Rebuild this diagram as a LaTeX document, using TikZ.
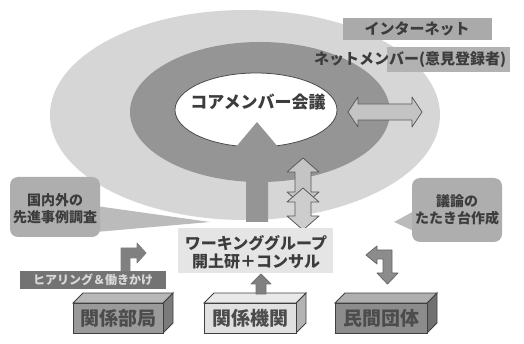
\documentclass[tikz,border=0pt]{standalone}
\usepackage{fontspec}
\setmainfont{Noto Sans CJK JP}
\usetikzlibrary{calc}
\definecolor{outerc}{HTML}{D6D6D6}
\definecolor{ringc}{HTML}{959595}
\definecolor{lblc}{HTML}{AAAAAA}
\definecolor{txtc}{HTML}{3C3C3C}
\definecolor{arrc}{HTML}{C4C4C4}
\definecolor{cubea}{HTML}{9A9A9A}
\definecolor{cubeb}{HTML}{E0E0E0}
\definecolor{cubec}{HTML}{8C8C8C}
\tikzset{
  lbl/.style={inner sep=0pt, text=txtc, font=\bfseries},
  blockarrow/.style={draw=black!65, line width=0.8pt, line join=round},
  cubefront/.style={draw=black!75, line width=0.9pt},
  cubeface/.style={draw=black!75, line width=0.9pt},
  cubetext/.style={inner sep=0pt, text=black!70, font=\bfseries\fontsize{19}{19}\selectfont},
  callout/.style={fill=lblc!95, rounded corners=8pt},
}
\newcommand\hdbl[5]{% x1 x2 y fill
  \filldraw[blockarrow, fill=#4] (#1,#3) -- ({#1+10},{#3-15}) -- ({#1+10},{#3-8}) -- ({#2-10},{#3-8}) -- ({#2-10},{#3-15}) -- (#2,#3) -- ({#2-10},{#3+15}) -- ({#2-10},{#3+8}) -- ({#1+10},{#3+8}) -- ({#1+10},{#3+15}) -- cycle;}
\newcommand\vdbl[4]{% x y1 y2 fill
  \filldraw[blockarrow, fill=#4] (#1,#2) -- ({#1+16},{#2+14}) -- ({#1+8},{#2+14}) -- ({#1+8},{#3-14}) -- ({#1+16},{#3-14}) -- (#1,#3) -- ({#1-16},{#3-14}) -- ({#1-8},{#3-14}) -- ({#1-8},{#2+14}) -- ({#1-16},{#2+14}) -- cycle;}
\newcommand\cuboid[6]{% name x1 y1 x2 y2 colourname
  \filldraw[cubeface, fill=#6!80!black] (#4,#3) -- ({#4+10},{#3-10}) -- ({#4+10},{#5-10}) -- (#4,#5) -- cycle;
  \filldraw[cubeface, fill=#6!70!white] (#2,#3) -- ({#2+10},{#3-10}) -- ({#4+10},{#3-10}) -- (#4,#3) -- cycle;
  \filldraw[cubefront, fill=#6] (#2,#3) rectangle (#4,#5);
  \coordinate (#1) at ({(#2+#4)/2},{(#3+#5)/2});}
\begin{document}
\begin{tikzpicture}[x=1pt,y=-1pt]
\useasboundingbox (0,0) rectangle (524,344);
\fill[white] (0,0) rectangle (524,344);
% ellipses
\fill[outerc] (245,115) ellipse [x radius=195, y radius=105];
\fill[ringc] (260,112) ellipse [x radius=130, y radius=70];
\filldraw[fill=white, draw=black!70, line width=0.8pt] (256,110) ellipse [x radius=81, y radius=37];
\node[lbl, font=\bfseries\fontsize{17}{17}\selectfont] (core) at (258,102) {コアメンバー会議};
% big up arrow
\fill[ringc] (257,122) -- (289,160) -- (268,160) -- (268,222) -- (246,222) -- (246,160) -- (225,160) -- cycle;
% labels top right
\fill[lblc] (343,18) rectangle (492,40);
\node[lbl, font=\bfseries\fontsize{15}{15}\selectfont] (inet) at (417,29) {インターネット};
\fill[lblc!90] (387,47) rectangle (510,72);
\node[lbl, font=\bfseries\fontsize{15}{15}\selectfont] (netm) at (410,60) {ネットメンバー(意見登録者)};
% horizontal double arrows
\hdbl{348}{422}{112}{arrc}
\hdbl{330}{371}{112}{arrc!50!white}
% vertical double arrows
\vdbl{303}{158}{206}{arrc}
\vdbl{303}{188}{230}{arrc!85!white}
% callouts
\fill[lblc!80] (96,206) -- (210,222) -- (96,232) -- cycle;
\fill[callout] (10,177) rectangle (100,237);
\node[lbl, font=\bfseries\fontsize{14}{14}\selectfont, align=center] (left) at (55,209) {国内外の\\[3pt]先進事例調査};
\fill[lblc!80] (416,210) -- (394,222) -- (416,232) -- cycle;
\fill[callout] (412,178) rectangle (502,242);
\node[lbl, font=\bfseries\fontsize{14}{14}\selectfont, align=center] (right) at (457,210) {議論の\\[3pt]たたき台作成};
% working group
\fill[black!10] (178,228) rectangle (333,273);
\node[lbl, font=\bfseries\fontsize{16}{16}\selectfont, align=center] (wg) at (256,252) {ワーキンググループ\\[2pt]開土研＋コンサル};
% hearing box
\fill[black!55] (20,271) rectangle (166,289);
\node[lbl, text=black!15, font=\bfseries\fontsize{12}{12}\selectfont] (hear) at (93,280) {ヒアリング＆働きかけ};
% elbow arrow left
\filldraw[blockarrow, fill=black!50, draw=black!50] (121,271) -- (121,248) -- (137,248) -- (137,243) -- (146,253) -- (137,263) -- (137,258) -- (130,258) -- (130,271) -- cycle;
% elbow arrow right
\filldraw[blockarrow, fill=black!45, draw=black!60] (366,255) -- (377,246) -- (377,250) -- (392,250) -- (392,273) -- (398,273) -- (387.5,284) -- (377,273) -- (383,273) -- (383,259) -- (377,259) -- (377,264) -- cycle;
% cuboids
\cuboid{bk}{73}{303}{163}{333}{cubea}
\node[cubetext] (bukyoku) at (bk) {関係部局};
\cuboid{kk}{204}{303}{296}{333}{cubeb}
\node[cubetext] (kikan) at (kk) {関係機関};
\cuboid{mk}{335}{303}{427}{333}{cubec}
\node[cubetext] (minkan) at (mk) {民間団体};
% small up arrow
\filldraw[blockarrow, fill=black!50, draw=black!55] (256,294) -- (256,284) -- (251,284) -- (261,274) -- (271,284) -- (266,284) -- (266,294) -- cycle;
\end{tikzpicture}
\end{document}
